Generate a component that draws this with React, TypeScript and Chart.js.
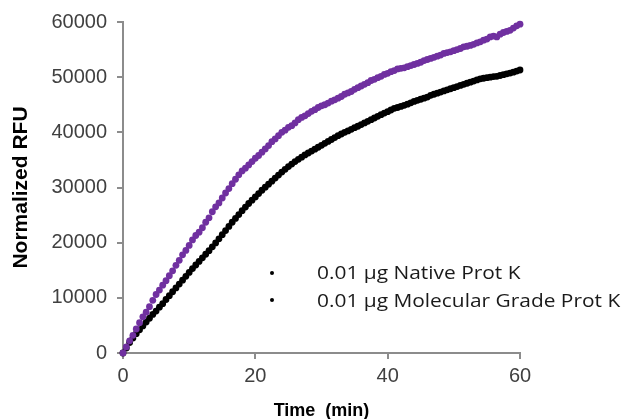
import React, { useEffect, useRef } from "react";
import { Chart, registerables } from "chart.js";

Chart.register(...registerables);

// Time points (min)
const timeMin: number[] = [
  0, 0.5, 1, 1.5, 2, 2.5, 3, 3.5, 4, 4.5, 5, 5.5, 6, 6.5, 7, 7.5, 8, 8.5, 9, 9.5,
  10, 10.5, 11, 11.5, 12, 12.5, 13, 13.5, 14, 14.5, 15, 15.5, 16, 16.5, 17, 17.5, 18, 18.5, 19, 19.5,
  20, 20.5, 21, 21.5, 22, 22.5, 23, 23.5, 24, 24.5, 25, 25.5, 26, 26.5, 27, 27.5, 28, 28.5, 29, 29.5,
  30, 30.5, 31, 31.5, 32, 32.5, 33, 33.5, 34, 34.5, 35, 35.5, 36, 36.5, 37, 37.5, 38, 38.5, 39, 39.5,
  40, 40.5, 41, 41.5, 42, 42.5, 43, 43.5, 44, 44.5, 45, 45.5, 46, 46.5, 47, 47.5, 48, 48.5, 49, 49.5,
  50, 50.5, 51, 51.5, 52, 52.5, 53, 53.5, 54, 54.5, 55, 55.5, 56, 56.5, 57, 57.5, 58, 58.5, 59, 59.5,
  60,
];

// 0.01 µg Native Prot K (purple)
const nativeRFU: number[] = [
  0, 1100, 2200, 3200, 4350, 5500, 6550, 7400, 8400, 9550,
  10600, 11400, 12300, 13100, 14000, 14900, 15900, 16800, 17800, 18600,
  19500, 20500, 21300, 21900, 22700, 23700, 24500, 25600, 26500, 27200,
  28100, 29000, 29800, 30700, 31500, 32300, 33000, 33500, 34100, 34700,
  35300, 35800, 36400, 37000, 37600, 38300, 38800, 39400, 40000, 40400,
  40900, 41200, 41700, 42300, 42700, 43000, 43400, 43800, 44100, 44500,
  44800, 45000, 45300, 45650, 45900, 46200, 46500, 46900, 47150, 47400,
  47800, 48100, 48400, 48700, 49000, 49400, 49600, 49900, 50150, 50500,
  50700, 51000, 51200, 51500, 51600, 51700, 51900, 52100, 52300, 52500,
  52700, 53000, 53200, 53400, 53600, 53800, 54000, 54300, 54450, 54600,
  54800, 55000, 55200, 55500, 55600, 55750, 55950, 56200, 56400, 56700,
  56900, 57300, 57450, 57300, 57800, 58100, 58300, 58500, 58900, 59300,
  59600,
];

// 0.01 µg Molecular Grade Prot K (black)
const molecularRFU: number[] = [
  0, 900, 1900, 2700, 3500, 4200, 4900, 5600, 6300, 7000,
  7600, 8300, 8950, 9700, 10400, 11100, 11800, 12500, 13200, 13900,
  14600, 15300, 15950, 16600, 17250, 17900, 18550, 19250, 19950, 20700,
  21450, 22200, 22950, 23700, 24400, 25100, 25800, 26450, 27100, 27700,
  28300, 28900, 29500, 30050, 30600, 31150, 31700, 32250, 32800, 33300,
  33800, 34250, 34700, 35100, 35500, 35900, 36250, 36600, 36950, 37300,
  37650, 38000, 38350, 38700, 39050, 39400, 39700, 40000, 40250, 40550,
  40850, 41100, 41400, 41700, 42000, 42300, 42600, 42900, 43200, 43500,
  43750, 44050, 44350, 44500, 44700, 44900, 45100, 45350, 45600, 45800,
  46000, 46200, 46400, 46700, 46900, 47100, 47300, 47500, 47700, 47900,
  48100, 48300, 48500, 48700, 48900, 49100, 49300, 49500, 49700, 49800,
  49900, 50000, 50100, 50150, 50300, 50450, 50600, 50750, 50900, 51100,
  51300,
];

const seriesLabels: string[] = ["0.01 µg Native Prot K", "0.01 µg Molecular Grade Prot K"];
const xTicks: number[] = [0, 20, 40, 60];
const yTicks: number[] = [0, 10000, 20000, 30000, 40000, 50000, 60000];

const AXIS_COLOR = "#8c8c8c";
const TICK_FONT = { family: "'Liberation Sans', Arial, sans-serif", size: 20 };

export default function App() {
  const canvasRef = useRef<HTMLCanvasElement | null>(null);

  useEffect(() => {
    const canvas = canvasRef.current;
    if (!canvas) return;
    const toPoints = (vals: number[]) => timeMin.map((t, i) => ({ x: t, y: vals[i] }));
    const chart = new Chart(canvas, {
      type: "scatter",
      data: {
        datasets: [
          {
            label: seriesLabels[0],
            data: toPoints(nativeRFU),
            backgroundColor: "#7030A0",
            borderColor: "#7030A0",
            pointRadius: 3.4,
            pointBorderWidth: 0,
            showLine: false,
            clip: false as any,
          },
          {
            label: seriesLabels[1],
            data: toPoints(molecularRFU),
            backgroundColor: "#000000",
            borderColor: "#000000",
            pointRadius: 3.4,
            pointBorderWidth: 0,
            showLine: false,
            clip: false as any,
          },
        ],
      },
      options: {
        responsive: false,
        animation: false,
        devicePixelRatio: 1,
        layout: { padding: { top: 22, right: 107, left: 0, bottom: 0 } },
        plugins: { legend: { display: false }, tooltip: { enabled: false } },
        scales: {
          x: {
            type: "linear",
            min: 0,
            max: 60,
            afterBuildTicks: (s: any) => {
              s.ticks = xTicks.map((v) => ({ value: v }));
            },
            afterFit: (s: any) => {
              s.height = 66;
            },
            ticks: { color: "#404040", font: TICK_FONT, padding: 5, callback: (v: any) => String(v) },
            grid: { drawOnChartArea: false, drawTicks: true, tickLength: 6, color: AXIS_COLOR, lineWidth: 2 },
            border: { color: AXIS_COLOR, width: 2 },
            title: {
              display: true,
              text: "Time  (min)",
              color: "#000",
              font: { family: "'Liberation Sans', Arial, sans-serif", size: 18, weight: "bold" },
              padding: { top: 0, bottom: -3 },
            },
          },
          y: {
            type: "linear",
            min: 0,
            max: 60000,
            afterBuildTicks: (s: any) => {
              s.ticks = yTicks.map((v) => ({ value: v }));
            },
            afterFit: (s: any) => {
              s.width = 123;
            },
            ticks: { color: "#404040", font: TICK_FONT, padding: 10, callback: (v: any) => String(v) },
            grid: { drawOnChartArea: false, drawTicks: true, tickLength: 6, color: AXIS_COLOR, lineWidth: 2 },
            border: { color: AXIS_COLOR, width: 2 },
            title: {
              display: true,
              text: "Normalized RFU",
              color: "#000",
              font: { family: "'Liberation Sans', Arial, sans-serif", size: 21, weight: "bold" },
              padding: { top: 9, bottom: 0 },
            },
          },
        },
      },
    });
    return () => chart.destroy();
  }, []);

  const legendFont = "'Open Sans', 'Noto Sans', sans-serif";
  return (
    <div style={{ position: "absolute", left: 0, top: 0, width: 627, height: 419, background: "#fff" }}>
      <canvas ref={canvasRef} width={627} height={419} style={{ display: "block", width: 627, height: 419 }} />
      {seriesLabels.map((lbl, i) => (
        <div
          key={lbl}
          style={{
            position: "absolute",
            left: 266,
            top: 258 + i * 27.5,
            height: 27,
            lineHeight: "27px",
            fontFamily: legendFont,
            fontSize: 19,
            color: "#1a1a1a",
            whiteSpace: "nowrap",
          }}
        >
          <span
            style={{
              display: "inline-block",
              width: 4,
              height: 4,
              borderRadius: 2,
              background: "#000",
              verticalAlign: "middle",
              marginLeft: 4,
              marginRight: 43,
            }}
          />
          <span
            style={{
              display: "inline-block",
              verticalAlign: "middle",
              transform: "scaleX(1.1)",
              transformOrigin: "left center",
            }}
          >
            {lbl}
          </span>
        </div>
      ))}
    </div>
  );
}
